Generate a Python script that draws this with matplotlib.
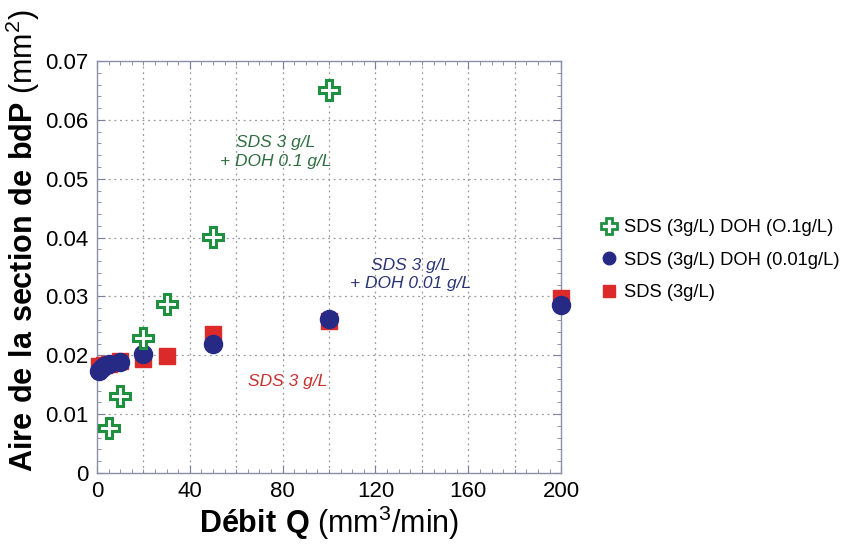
import matplotlib.pyplot as plt
from matplotlib.ticker import MultipleLocator
from matplotlib.lines import Line2D

plt.rcParams['font.family'] = ['Liberation Sans', 'DejaVu Sans']
plt.rcParams['mathtext.fontset'] = 'custom'
plt.rcParams['mathtext.rm'] = 'Liberation Sans'
plt.rcParams['mathtext.bf'] = 'Liberation Sans:bold'

# data
q_doh01 = [5, 10, 20, 30, 50, 100]
a_doh01 = [0.0077, 0.0131, 0.0229, 0.0287, 0.0401, 0.0651]

q_doh001 = [1, 2, 3, 5, 10, 20, 50, 100, 200]
a_doh001 = [0.0174, 0.0178, 0.0181, 0.0185, 0.0189, 0.0203, 0.0219, 0.0261, 0.0285]

q_sds = [1, 3, 5, 10, 20, 30, 50, 100, 200]
a_sds = [0.0181, 0.0183, 0.0186, 0.0190, 0.0193, 0.0198, 0.0236, 0.0259, 0.0297]

labels = ['SDS (3g/L) DOH (O.1g/L)', 'SDS (3g/L) DOH (0.01g/L)', 'SDS (3g/L)']

green = '#1f9040'
navy = '#262a85'
red = '#dc2a2a'

fig = plt.figure(figsize=(8.62, 5.5), dpi=100)
ax = fig.add_axes([0.1125, 0.14, 0.5385, 0.749])

ax.plot(q_sds, a_sds, 's', color=red, ms=12, zorder=3, clip_on=False)
ax.plot(q_doh001, a_doh001, 'o', color=navy, ms=13, zorder=4, clip_on=False)
ax.plot(q_doh01, a_doh01, 'P', mfc='white', mec=green, mew=2.2, ms=14, zorder=5,
        clip_on=False)

ax.set_xlim(0, 200)
ax.set_ylim(0, 0.07)
ax.xaxis.set_major_locator(MultipleLocator(40))
ax.xaxis.set_minor_locator(MultipleLocator(5))
ax.yaxis.set_minor_locator(MultipleLocator(0.002))
ax.set_yticks([0, 0.01, 0.02, 0.03, 0.04, 0.05, 0.06, 0.07])
ax.set_yticklabels(['0', '0.01', '0.02', '0.03', '0.04', '0.05', '0.06', '0.07'])

# dotted grid every 20 on x and 0.01 on y
for x in range(20, 200, 20):
    ax.axvline(x, color='#999999', ls=(0, (1.5, 3)), lw=0.9, zorder=1)
for y in [0.01, 0.02, 0.03, 0.04, 0.05, 0.06]:
    ax.axhline(y, color='#999999', ls=(0, (1.5, 3)), lw=0.9, zorder=1)

ax.tick_params(which='both', direction='in', top=True, right=True, color='#7a7f9a')
ax.tick_params(which='major', length=6, labelsize=16, pad=6)
ax.tick_params(which='minor', length=3)
for s in ax.spines.values():
    s.set_color('#8a8fa8')
    s.set_linewidth(1.0)

ax.set_xlabel(r'$\mathbf{Débit\ Q}$ (mm$^3$/min)', fontsize=22, labelpad=1)
ax.set_ylabel(r'$\mathbf{Aire\ de\ la\ section\ de\ bdP}$ (mm$^2$)', fontsize=22)
ax.yaxis.set_label_coords(-0.118, 0.563)

ax.text(77, 0.0545, 'SDS 3 g/L\n+ DOH 0.1 g/L', color='#2f6e40', fontsize=12.5,
        style='italic', ha='center', va='center', linespacing=1.3)
ax.text(135, 0.0337, 'SDS 3 g/L\n+ DOH 0.01 g/L', color='#2b3575', fontsize=12.5,
        style='italic', ha='center', va='center', linespacing=1.3)
ax.text(82, 0.0155, 'SDS 3 g/L', color='#c8302e', fontsize=12.5,
        style='italic', ha='center', va='center')

handles = [
    Line2D([], [], ls='none', marker='P', mfc='white', mec=green, mew=2, ms=11),
    Line2D([], [], ls='none', marker='o', color=navy, ms=9),
    Line2D([], [], ls='none', marker='s', color=red, ms=9),
]
fig.legend(handles, labels, loc='center left', bbox_to_anchor=(0.683, 0.527),
           frameon=False, fontsize=13.2, handletextpad=0.35, labelspacing=0.85,
           handlelength=1.0, borderaxespad=0.2)

fig.savefig('out.png', dpi=100)
